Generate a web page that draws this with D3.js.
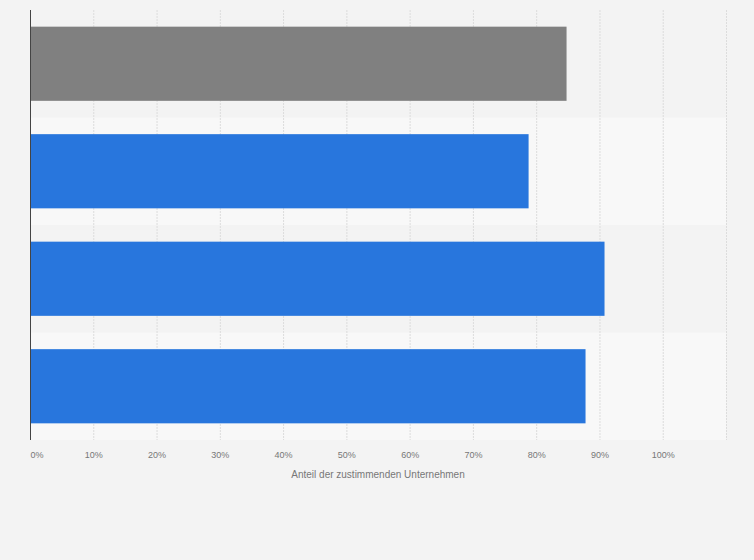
<!DOCTYPE html>
<html>
<head>
<meta charset="utf-8">
<script src="https://cdn.jsdelivr.net/npm/d3@7"></script>
<style>
  html, body { margin: 0; padding: 0; background: #f3f3f3; }
  svg { display: block; font-family: "Liberation Sans", Arial, sans-serif; }
</style>
</head>
<body>
<svg id="chart" width="754" height="560"></svg>
<script>
// category names are not shown in the chart, only the bars
const categories = ['A', 'B', 'C', 'D'];
const values = [84.8, 78.8, 90.8, 87.8];
const barColors = ['#808080', '#2876dd', '#2876dd', '#2876dd'];
const xTicks = [0, 10, 20, 30, 40, 50, 60, 70, 80, 90, 100];
const xTitle = 'Anteil der zustimmenden Unternehmen';

const svg = d3.select('#chart');
const margin = { top: 10, left: 30, right: 28, bottom: 120 };
const width = 754 - margin.left - margin.right;
const height = 560 - margin.top - margin.bottom;

const g = svg.append('g').attr('transform', `translate(${margin.left},${margin.top})`);

const x = d3.scaleLinear().domain([0, 110]).range([0, width]);
const y = d3.scaleBand().domain(categories).range([0, height]).paddingInner(0.31).paddingOuter(0.155);

// alternating row bands
const step = height / categories.length;
g.selectAll('rect.band')
    .data(categories)
    .enter()
    .append('rect')
    .attr('class', 'band')
    .attr('x', 0)
    .attr('y', (d, i) => i * step)
    .attr('width', width)
    .attr('height', step)
    .attr('fill', (d, i) => i % 2 === 0 ? '#f3f3f3' : '#f8f8f8');

// vertical gridlines
g.selectAll('line.grid')
    .data(xTicks.slice(1).concat([110]))
    .enter()
    .append('line')
    .attr('class', 'grid')
    .attr('x1', d => x(d) + 0.5)
    .attr('x2', d => x(d) + 0.5)
    .attr('y1', 0)
    .attr('y2', height)
    .attr('stroke', '#dcdcdc')
    .attr('stroke-width', 1)
    .attr('stroke-dasharray', '2,1');

// bars
g.selectAll('rect.bar')
    .data(values)
    .enter()
    .append('rect')
    .attr('class', 'bar')
    .attr('x', 0)
    .attr('y', (d, i) => y(categories[i]))
    .attr('width', d => x(d))
    .attr('height', y.bandwidth())
    .attr('fill', (d, i) => barColors[i]);

// y axis line
g.append('line')
    .attr('x1', 0.5).attr('x2', 0.5)
    .attr('y1', 0).attr('y2', height)
    .attr('stroke', '#444')
    .attr('stroke-width', 1);

// x axis labels
const xAxis = d3.axisBottom(x)
    .tickValues(xTicks)
    .tickSize(0)
    .tickPadding(12)
    .tickFormat(d => d + '%');

const axisG = g.append('g')
    .attr('transform', `translate(0,${height})`)
    .call(xAxis);
axisG.select('.domain').remove();
axisG.selectAll('text')
    .attr('fill', '#777')
    .style('font-size', '9px')
    .attr('text-anchor', d => d === 0 ? 'start' : 'middle');

g.append('text')
    .attr('x', width / 2)
    .attr('y', height + 38)
    .attr('text-anchor', 'middle')
    .attr('fill', '#777')
    .style('font-size', '10px')
    .text(xTitle);
</script>
</body>
</html>
